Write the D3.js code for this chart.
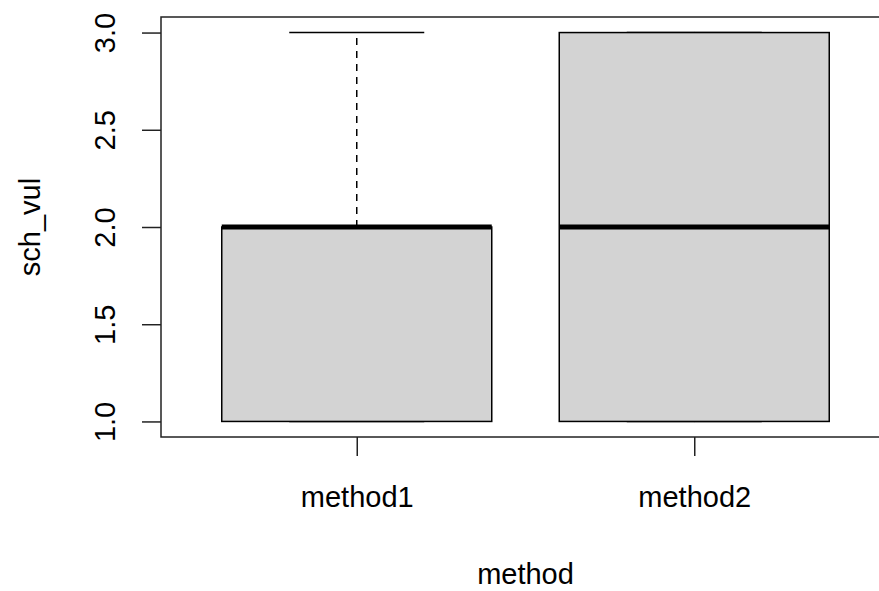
<!DOCTYPE html>
<html>
<head>
<meta charset="utf-8">
<script src="https://cdn.jsdelivr.net/npm/d3@7"></script>
<style>
  html, body { margin: 0; padding: 0; background: #fff; }
  svg { display: block; }
  text { font-family: "Liberation Sans", Arial, sans-serif; fill: #000; }
</style>
</head>
<body>
<svg id="chart" width="879" height="591"></svg>
<script>
// Five-number summaries per group
const categories = ["method1", "method2"];
const lowerWhisker = [1, 1];
const q1 = [1, 1];
const medians = [2, 2];
const q3 = [2, 3];
const upperWhisker = [3, 3];
const yTicks = [1.0, 1.5, 2.0, 2.5, 3.0];

const svg = d3.select("#chart");
const plotLeft = 161, plotRight = 890, plotTop = 17, plotBottom = 437;
const fontSize = 29;

// R-style ranges: groups at 1..n, extended by 4%
const x = d3.scaleLinear().domain([0.42, 2.58]).range([plotLeft, plotRight]);
const y = d3.scaleLinear().domain([0.92, 3.08]).range([plotBottom, plotTop]);

const boxHalf = 0.4, capHalf = 0.2;

const g = svg.append("g");

categories.forEach((c, i) => {
  const cx = x(i + 1);
  // whiskers
  g.append("line")
    .attr("x1", cx).attr("x2", cx)
    .attr("y1", y(q3[i])).attr("y2", y(upperWhisker[i]))
    .attr("stroke", "#000").attr("stroke-width", 1.5)
    .attr("stroke-dasharray", "7,6");
  g.append("line")
    .attr("x1", cx).attr("x2", cx)
    .attr("y1", y(q1[i])).attr("y2", y(lowerWhisker[i]))
    .attr("stroke", "#000").attr("stroke-width", 1.5)
    .attr("stroke-dasharray", "7,6");
  // caps
  [upperWhisker[i], lowerWhisker[i]].forEach(v => {
    g.append("line")
      .attr("x1", x(i + 1 - capHalf)).attr("x2", x(i + 1 + capHalf))
      .attr("y1", y(v)).attr("y2", y(v))
      .attr("stroke", "#000").attr("stroke-width", 1.5);
  });
  // box
  g.append("rect")
    .attr("x", x(i + 1 - boxHalf))
    .attr("y", y(q3[i]))
    .attr("width", x(i + 1 + boxHalf) - x(i + 1 - boxHalf))
    .attr("height", y(q1[i]) - y(q3[i]))
    .attr("fill", "#d3d3d3")
    .attr("stroke", "#000").attr("stroke-width", 1.5);
  // median
  g.append("line")
    .attr("x1", x(i + 1 - boxHalf)).attr("x2", x(i + 1 + boxHalf))
    .attr("y1", y(medians[i])).attr("y2", y(medians[i]))
    .attr("stroke", "#000").attr("stroke-width", 5);
});

// plot frame
svg.append("rect")
  .attr("x", plotLeft).attr("y", plotTop)
  .attr("width", plotRight - plotLeft).attr("height", plotBottom - plotTop)
  .attr("fill", "none").attr("stroke", "#222").attr("stroke-width", 1.5);

// y axis
const yAxis = svg.append("g")
  .attr("transform", `translate(${plotLeft},0)`)
  .call(d3.axisLeft(y).tickValues(yTicks).tickSize(19).tickFormat(d3.format(".1f")));
yAxis.select(".domain").remove();
yAxis.selectAll(".tick line").attr("stroke", "#222").attr("stroke-width", 1.5);
yAxis.selectAll(".tick text")
  .attr("x", null).attr("dy", null)
  .attr("transform", "translate(-46,0) rotate(-90)")
  .attr("text-anchor", "middle")
  .style("font-size", fontSize + "px")
  .style("font-family", "'Liberation Sans', Arial, sans-serif")
  .attr("fill", "#000");

// x axis
const xAxis = svg.append("g")
  .attr("transform", `translate(0,${plotBottom})`)
  .call(d3.axisBottom(x).tickValues(categories.map((c, i) => i + 1))
    .tickSize(19).tickFormat((d, i) => categories[i]));
xAxis.select(".domain").remove();
xAxis.selectAll(".tick line").attr("stroke", "#222").attr("stroke-width", 1.5);
xAxis.selectAll(".tick text")
  .attr("y", 70).attr("dy", null)
  .attr("text-anchor", "middle")
  .style("font-size", fontSize + "px")
  .style("font-family", "'Liberation Sans', Arial, sans-serif")
  .attr("fill", "#000");

// axis titles
svg.append("text")
  .attr("x", (plotLeft + plotRight) / 2).attr("y", 584)
  .attr("text-anchor", "middle")
  .style("font-size", fontSize + "px")
  .text("method");

svg.append("text")
  .attr("transform", `translate(40,${(plotTop + plotBottom) / 2}) rotate(-90)`)
  .attr("text-anchor", "middle")
  .style("font-size", fontSize + "px")
  .text("sch_vul");
</script>
</body>
</html>
